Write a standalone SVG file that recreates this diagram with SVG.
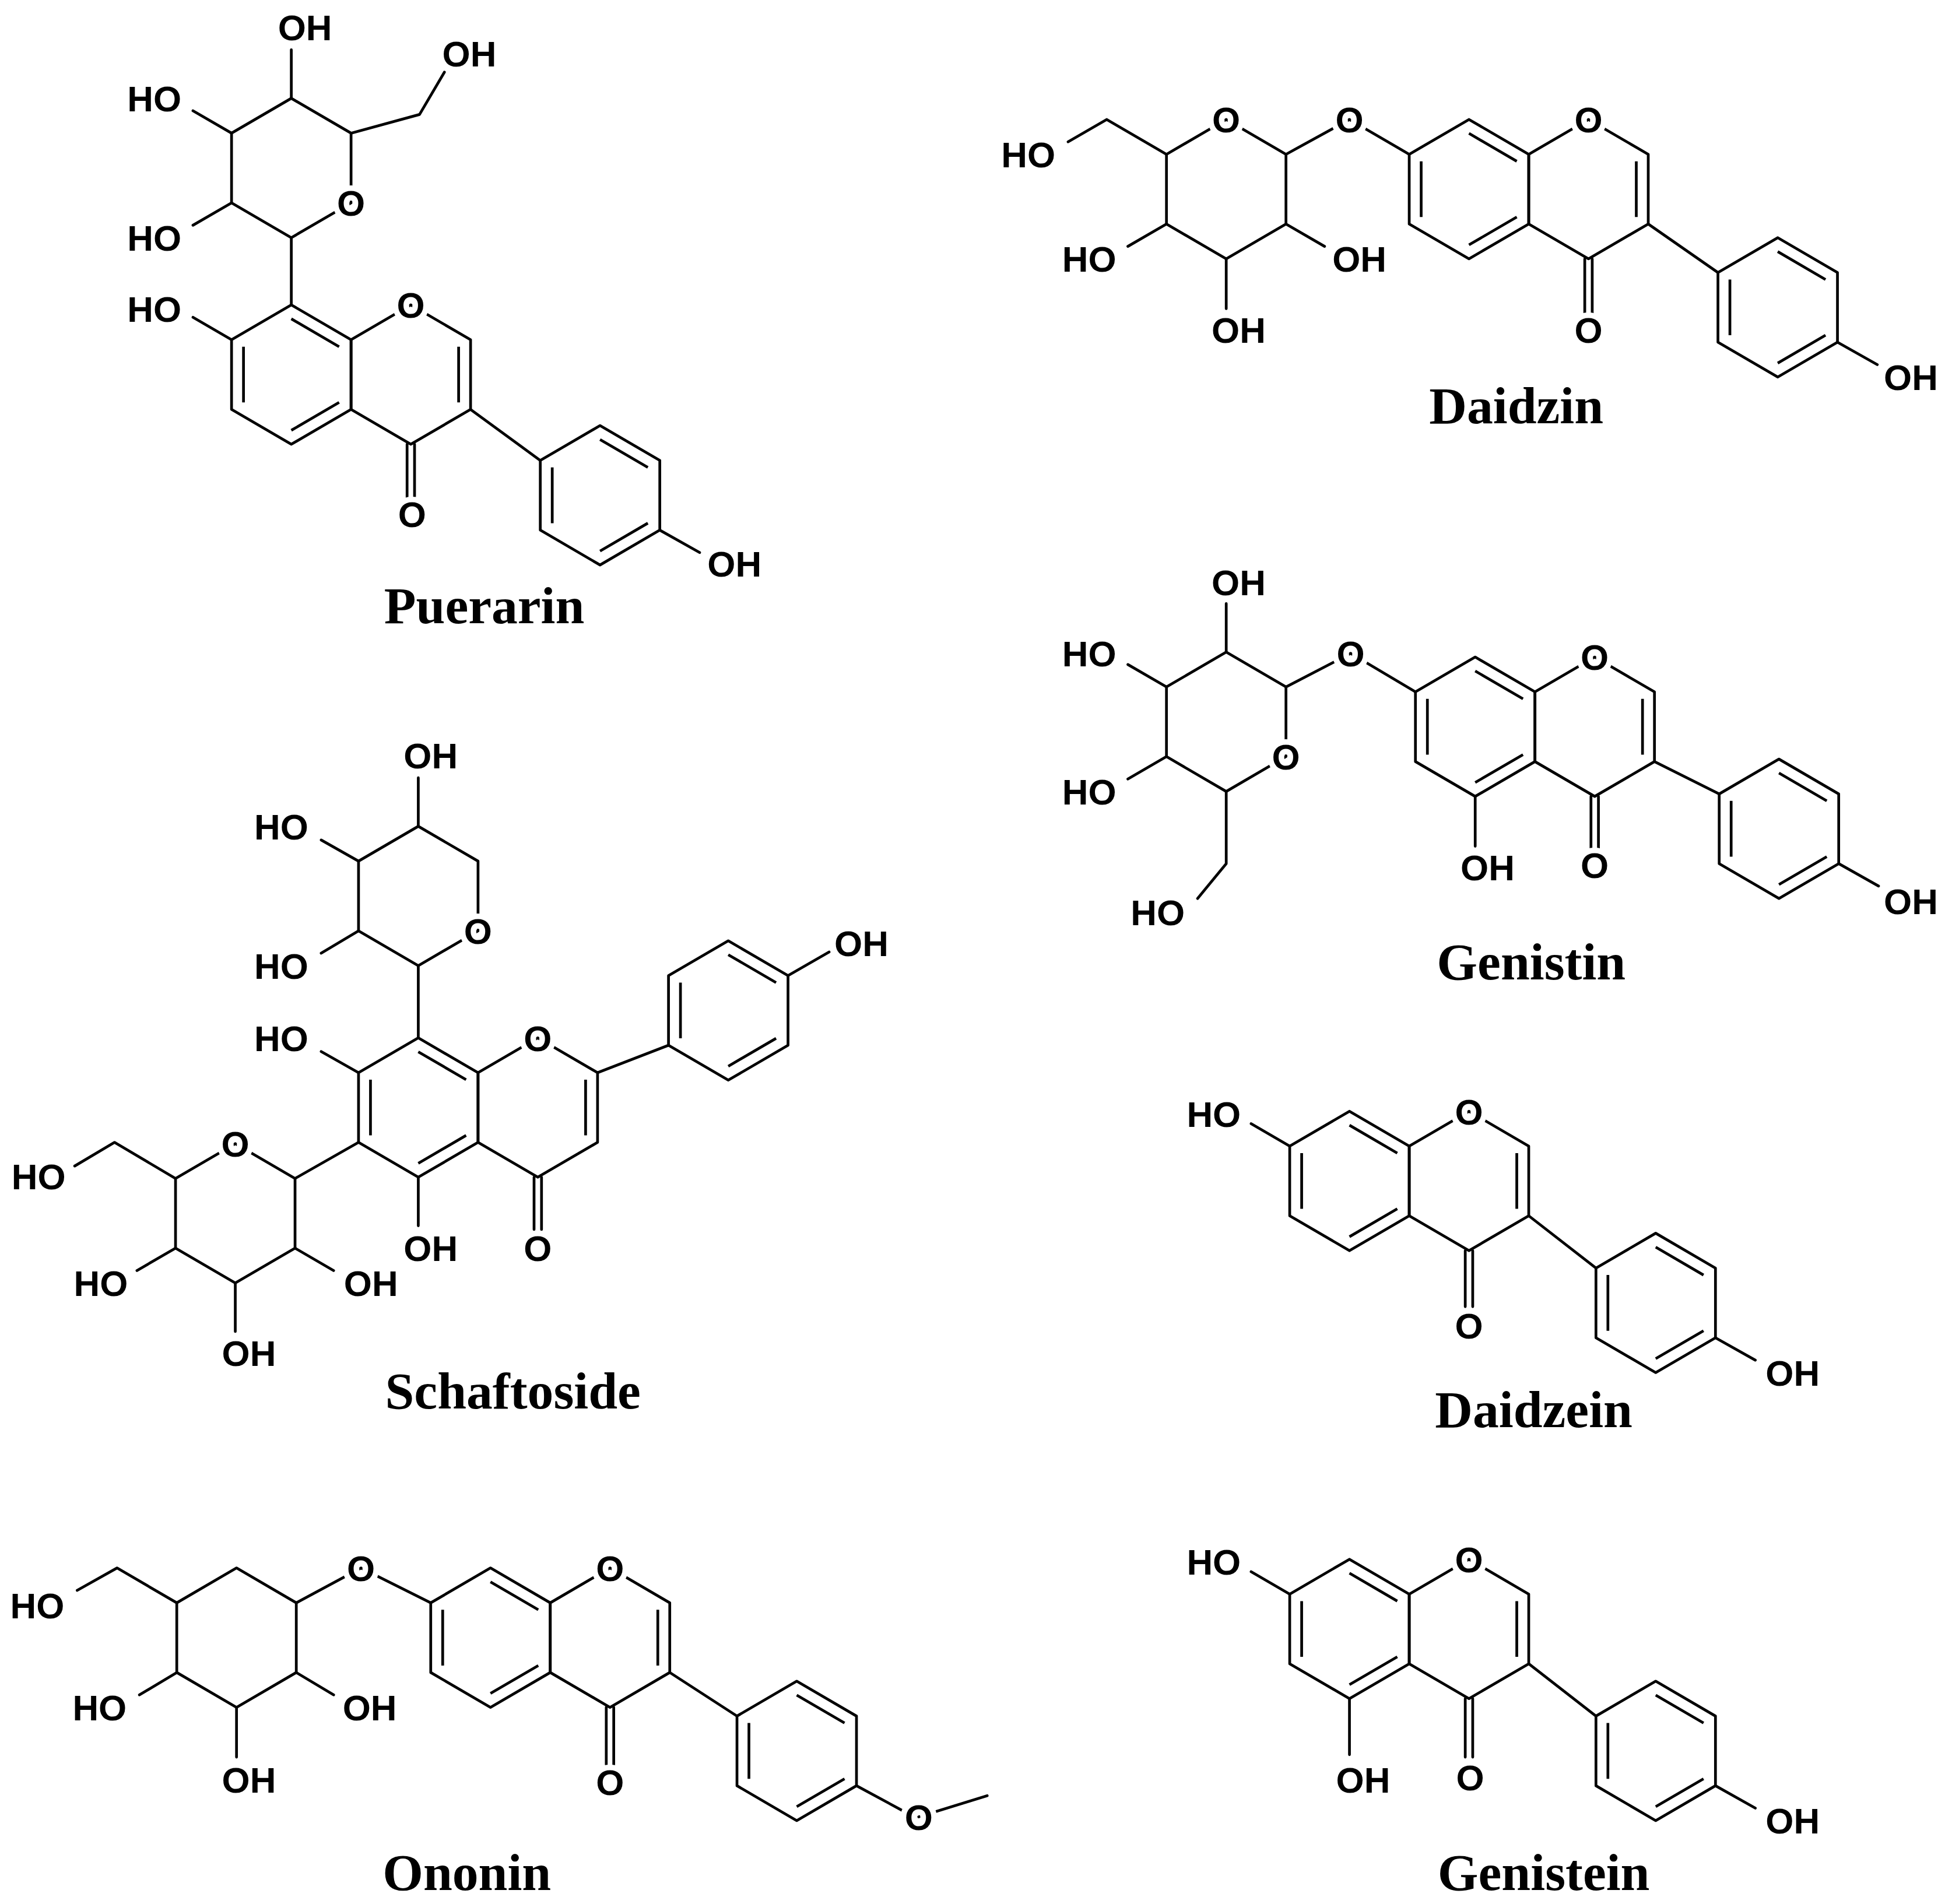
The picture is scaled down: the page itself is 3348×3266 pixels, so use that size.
<svg xmlns="http://www.w3.org/2000/svg" xmlns:xlink="http://www.w3.org/1999/xlink" width="3348" height="3266" viewBox="0 0 3348 3266">
<style>
.b{fill:none;stroke:#000;stroke-width:2.2;stroke-linecap:round;stroke-linejoin:round}
.a{font-family:"Liberation Sans",Arial,sans-serif;font-weight:bold;font-size:29px;text-anchor:middle;fill:#000;stroke:#fff;stroke-width:9px;paint-order:stroke;stroke-linejoin:round}
.n{font-family:"Liberation Serif","Times New Roman",serif;font-weight:bold;font-size:42px;text-anchor:middle;fill:#000}
</style>
<defs>
<path id="benz" fill="none" stroke="#000" stroke-width="2.2" stroke-linejoin="round" d="M0,-56L48,-28L48,28L0,56L-48,28L-48,-28Z M0,-44.8L38.4,-22.4 M-38.4,-22.4L-38.4,22.4 M0,44.8L38.4,22.4"/>
<path id="pyr" fill="none" stroke="#000" stroke-width="2.2" stroke-linejoin="round" d="M0,-56L48,-28L48,28L0,56L-48,28L-48,-28Z M38.4,-22.4L38.4,22.4"/>
<path id="hex" fill="none" stroke="#000" stroke-width="2.2" stroke-linejoin="round" d="M0,-56L48,-28L48,28L0,56L-48,28L-48,-28Z"/>
</defs>
<rect width="3348" height="3266" fill="#fff"/>
<g transform="scale(2.1352,2.1346)">

<g id="puerarin">
<use xlink:href="#benz" href="#benz" x="234" y="301"/>
<use xlink:href="#pyr" href="#pyr" x="330" y="301"/>
<use xlink:href="#benz" href="#benz" x="482" y="398"/>
<use xlink:href="#hex" href="#hex" x="234" y="135"/>
<path class="b" d="M327,357V400M333,357V400M378,329L434,370M530,426L562,444M186,273L155,255M234,245V191M234,79V40M186,107L155,89M186,163L155,181M282,107L337,92L357,58"/>
<text class="a" x="330" y="255.5">O</text>
<text class="a" x="331" y="423.5">O</text>
<text class="a" x="590" y="463.5">OH</text>
<text class="a" x="124" y="258.5">HO</text>
<text class="a" x="282" y="173.5">O</text>
<text class="a" x="245" y="32.5">OH</text>
<text class="a" x="124" y="89.5">HO</text>
<text class="a" x="124" y="201.5">HO</text>
<text class="a" x="377" y="53.5">OH</text>
<text class="n" x="389" y="501">Puerarin</text>
</g>

<g id="daidzin">
<use xlink:href="#benz" href="#benz" x="1180" y="152"/>
<use xlink:href="#pyr" href="#pyr" x="1276" y="152"/>
<use xlink:href="#benz" href="#benz" x="1428" y="247"/>
<use xlink:href="#hex" href="#hex" x="985" y="152"/>
<path class="b" d="M1273,208V252M1279,208V252M1324,180L1380,219M1476,275L1508,293M1132,124L1084,96L1033,124M937,124L889,96L858,114M937,180L906,198M1033,180L1064,198M985,208V248"/>
<text class="a" x="1276" y="106.5">O</text>
<text class="a" x="1276" y="275.5">O</text>
<text class="a" x="1535" y="313.5">OH</text>
<text class="a" x="1084" y="106.5">O</text>
<text class="a" x="985" y="106.5">O</text>
<text class="a" x="826" y="134.5">HO</text>
<text class="a" x="875" y="218.5">HO</text>
<text class="a" x="1092" y="218.5">OH</text>
<text class="a" x="995" y="275.5">OH</text>
<text class="n" x="1218" y="340">Daidzin</text>
</g>

<g id="genistin">
<use xlink:href="#benz" href="#benz" x="1185" y="584"/>
<use xlink:href="#pyr" href="#pyr" x="1281" y="584"/>
<use xlink:href="#benz" href="#benz" x="1429" y="666"/>
<use xlink:href="#hex" href="#hex" x="985" y="580"/>
<path class="b" d="M1278,640V682M1284,640V682M1329,612L1381,638M1477,694L1509,712M1185,640V680M1137,556L1085,525L1033,552M985,524V485M937,552L906,534M937,608L906,626M985,636V694L962,722"/>
<text class="a" x="1281" y="538.5">O</text>
<text class="a" x="1281" y="705.5">O</text>
<text class="a" x="1535" y="734.5">OH</text>
<text class="a" x="1195" y="707.5">OH</text>
<text class="a" x="1085" y="535.5">O</text>
<text class="a" x="1033" y="618.5">O</text>
<text class="a" x="995" y="478.5">OH</text>
<text class="a" x="875" y="535.5">HO</text>
<text class="a" x="875" y="646.5">HO</text>
<text class="a" x="930" y="743.5">HO</text>
<text class="n" x="1230" y="787">Genistin</text>
</g>

<g id="schaftoside">
<use xlink:href="#benz" href="#benz" x="336" y="890"/>
<use xlink:href="#pyr" href="#pyr" x="432" y="890"/>
<use xlink:href="#benz" href="#benz" x="585" y="812"/>
<use xlink:href="#hex" href="#hex" x="336" y="720"/>
<use xlink:href="#hex" href="#hex" x="189" y="975"/>
<path class="b" d="M429,946V988M435,946V988M480,862L537,840M633,784L666,765M288,862L258,845M336,946V985M336,776V834M336,664V625M288,692L258,675M288,748L258,766M288,918L237,947M141,947L92,918L60,937M141,1003L110,1021M237,1003L268,1021M189,1031V1070"/>
<text class="a" x="432" y="844.5">O</text>
<text class="a" x="432" y="1013.5">O</text>
<text class="a" x="692" y="768.5">OH</text>
<text class="a" x="226" y="844.5">HO</text>
<text class="a" x="346" y="1013.5">OH</text>
<text class="a" x="384" y="758.5">O</text>
<text class="a" x="346" y="617.5">OH</text>
<text class="a" x="226" y="674.5">HO</text>
<text class="a" x="226" y="786.5">HO</text>
<text class="a" x="189" y="929.5">O</text>
<text class="a" x="31" y="955.5">HO</text>
<text class="a" x="81" y="1041.5">HO</text>
<text class="a" x="298" y="1041.5">OH</text>
<text class="a" x="200" y="1097.5">OH</text>
<text class="n" x="412" y="1132">Schaftoside</text>
</g>

<g id="daidzein">
<use xlink:href="#benz" href="#benz" x="1084" y="949"/>
<use xlink:href="#pyr" href="#pyr" x="1180" y="949"/>
<use xlink:href="#benz" href="#benz" x="1330" y="1047"/>
<path class="b" d="M1177,1005V1050M1183,1005V1050M1228,977L1282,1019M1378,1075L1410,1093M1036,921L1005,903"/>
<text class="a" x="1180" y="903.5">O</text>
<text class="a" x="1180" y="1075.5">O</text>
<text class="a" x="1440" y="1113.5">OH</text>
<text class="a" x="975" y="905.5">HO</text>
<text class="n" x="1232" y="1147">Daidzein</text>
</g>

<g id="genistein">
<use xlink:href="#benz" href="#benz" x="1084" y="1309"/>
<use xlink:href="#pyr" href="#pyr" x="1180" y="1309"/>
<use xlink:href="#benz" href="#benz" x="1330" y="1407"/>
<path class="b" d="M1177,1365V1412M1183,1365V1412M1228,1337L1282,1379M1378,1435L1410,1453M1036,1281L1005,1263M1084,1365V1410"/>
<text class="a" x="1180" y="1263.5">O</text>
<text class="a" x="1181" y="1438.5">O</text>
<text class="a" x="1440" y="1473.5">OH</text>
<text class="a" x="975" y="1265.5">HO</text>
<text class="a" x="1095" y="1440.5">OH</text>
<text class="n" x="1240" y="1519">Genistein</text>
</g>

<g id="ononin">
<use xlink:href="#benz" href="#benz" x="394" y="1316"/>
<use xlink:href="#pyr" href="#pyr" x="490" y="1316"/>
<use xlink:href="#benz" href="#benz" x="640" y="1407"/>
<use xlink:href="#hex" href="#hex" x="190" y="1316"/>
<path class="b" d="M487,1372V1418M493,1372V1418M538,1344L592,1379M688,1435L725,1455M738,1460L793,1443M346,1288L290,1260L238,1288M142,1288L94,1260L62,1278M142,1344L112,1362M238,1344L268,1362M190,1372V1412"/>
<text class="a" x="490" y="1270.5">O</text>
<text class="a" x="490" y="1442.5">O</text>
<text class="a" x="738" y="1470.5">O</text>
<text class="a" x="290" y="1270.5">O</text>
<text class="a" x="30" y="1300.5">HO</text>
<text class="a" x="80" y="1382.5">HO</text>
<text class="a" x="297" y="1382.5">OH</text>
<text class="a" x="200" y="1440.5">OH</text>
<text class="n" x="375" y="1519">Ononin</text>
</g>

</g>
</svg>
